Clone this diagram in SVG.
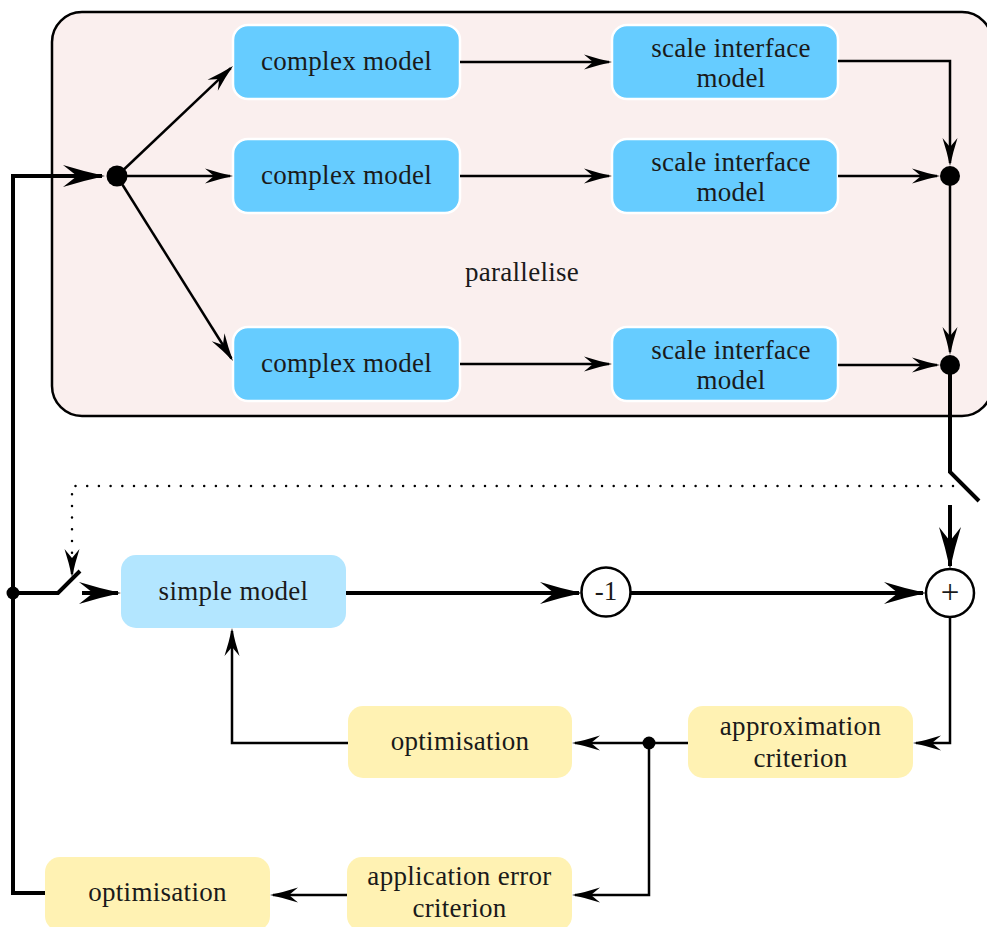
<svg xmlns="http://www.w3.org/2000/svg" width="987" height="927" viewBox="0 0 987 927">
<defs>
<style>
text{font-family:'Liberation Serif','DejaVu Serif',serif;font-size:27px;fill:#1a1a1a;text-anchor:middle;letter-spacing:0.3px}
.cm{fill:#66ccff;stroke:#ffffff;stroke-width:2.5}
.sm{fill:#b3e6ff}
.yl{fill:#fff2b3}
.ln{fill:none;stroke:#000;stroke-width:2.5}
.tk{fill:none;stroke:#000;stroke-width:4}
.dt{fill:none;stroke:#000;stroke-width:2.5;stroke-dasharray:0 11.7;stroke-linecap:round}
.dot{fill:#000}
.op{fill:#fff;stroke:#000;stroke-width:2.5}
</style>
<marker id="a" markerUnits="userSpaceOnUse" markerWidth="60" markerHeight="60" refX="0" refY="0" orient="auto" overflow="visible">
<path d="M3,0 Q-11,-3 -25,-7.5 L-16,0 L-25,7.5 Q-11,3 3,0 Z" fill="#000"/>
</marker>
<marker id="b" markerUnits="userSpaceOnUse" markerWidth="80" markerHeight="80" refX="0" refY="0" orient="auto" overflow="visible">
<path d="M3,0 Q-18,-4.5 -39,-11 L-25,0 L-39,11 Q-18,4.5 3,0 Z" fill="#000"/>
</marker>
</defs>

<g id="container">
<rect x="52" y="12" width="940" height="404" rx="30" fill="#faefee" stroke="#000" stroke-width="2.5"/>
<text x="522" y="281">parallelise</text>
</g>

<g id="complex1"><rect class="cm" x="233" y="25" width="227" height="74" rx="15"/><text x="346.5" y="70">complex model</text></g>
<g id="complex2"><rect class="cm" x="233" y="139" width="227" height="74" rx="15"/><text x="346.5" y="184">complex model</text></g>
<g id="complex3"><rect class="cm" x="233" y="327" width="227" height="74" rx="15"/><text x="346.5" y="372">complex model</text></g>

<g id="scale1"><rect class="cm" x="612" y="25" width="226" height="74" rx="15"/><text x="731" y="57">scale interface</text><text x="731" y="87">model</text></g>
<g id="scale2"><rect class="cm" x="612" y="139" width="226" height="74" rx="15"/><text x="731" y="171">scale interface</text><text x="731" y="201">model</text></g>
<g id="scale3"><rect class="cm" x="612" y="327" width="226" height="74" rx="15"/><text x="731" y="359">scale interface</text><text x="731" y="389">model</text></g>

<g id="simple"><rect class="sm" x="121" y="555" width="225" height="73" rx="15"/><text x="233.5" y="600">simple model</text></g>
<g id="optimisation1"><rect class="yl" x="348" y="706" width="224" height="72" rx="15"/><text x="460" y="750">optimisation</text></g>
<g id="approximation"><rect class="yl" x="688" y="706" width="225" height="72" rx="15"/><text x="800.5" y="735">approximation</text><text x="800.5" y="767">criterion</text></g>
<g id="application"><rect class="yl" x="347" y="857" width="225" height="74" rx="15"/><text x="459.5" y="885">application error</text><text x="459.5" y="917">criterion</text></g>
<g id="optimisation2"><rect class="yl" x="45" y="857" width="225" height="74" rx="15"/><text x="157.5" y="901">optimisation</text></g>

<g id="minus"><circle class="op" cx="606" cy="592" r="24.5"/><text x="606" y="600" style="letter-spacing:0">-1</text></g>
<g id="plus"><circle class="op" cx="950" cy="593" r="24"/><text x="950" y="603" style="letter-spacing:0;font-size:33px">+</text></g>

<g id="connectors">
<path class="ln" d="M117,176 L230.8,68.1" marker-end="url(#a)"/>
<path class="ln" d="M117,176 L230,176" marker-end="url(#a)"/>
<path class="ln" d="M117,176 L231.4,358.5" marker-end="url(#a)"/>
<path class="ln" d="M460,62 L609,62" marker-end="url(#a)"/>
<path class="ln" d="M460,176 L609,176" marker-end="url(#a)"/>
<path class="ln" d="M460,364 L609,364" marker-end="url(#a)"/>
<path class="ln" d="M838,61 L950,61 L950,163" marker-end="url(#a)"/>
<path class="ln" d="M838,176 L937,176" marker-end="url(#a)"/>
<path class="ln" d="M950,176 L950,352" marker-end="url(#a)"/>
<path class="ln" d="M838,365 L937,365" marker-end="url(#a)"/>
<path class="tk" d="M950,365 L950,472 L979,501"/>
<path class="tk" d="M950,505 L950,566" marker-end="url(#b)"/>
<path class="dt" d="M953,486 L72,486 L72,560"/>
<path class="ln" d="M72,566 L72,574" marker-end="url(#a)"/>
<path class="tk" d="M45,893 L13,893 L13,176 L102,176" marker-end="url(#b)"/>
<path class="tk" d="M13,593 L58,593 L80,571"/>
<path class="tk" d="M82,593 L118,593" marker-end="url(#b)"/>
<path class="tk" d="M346,593 L579,593" marker-end="url(#b)"/>
<path class="tk" d="M631,593 L923,593" marker-end="url(#b)"/>
<path class="ln" d="M950,617 L950,743 L916,743" marker-end="url(#a)"/>
<path class="ln" d="M688,743 L575,743" marker-end="url(#a)"/>
<path class="ln" d="M649,743 L649,895 L575,895" marker-end="url(#a)"/>
<path class="ln" d="M348,743 L232,743 L232,631" marker-end="url(#a)"/>
<path class="ln" d="M347,895 L273,895" marker-end="url(#a)"/>
<circle class="dot" cx="117" cy="176" r="10.5"/>
<circle class="dot" cx="950" cy="176" r="10"/>
<circle class="dot" cx="950" cy="365" r="10"/>
<circle class="dot" cx="13" cy="593" r="6.5"/>
<circle class="dot" cx="649" cy="743" r="6.5"/>
</g>
</svg>
